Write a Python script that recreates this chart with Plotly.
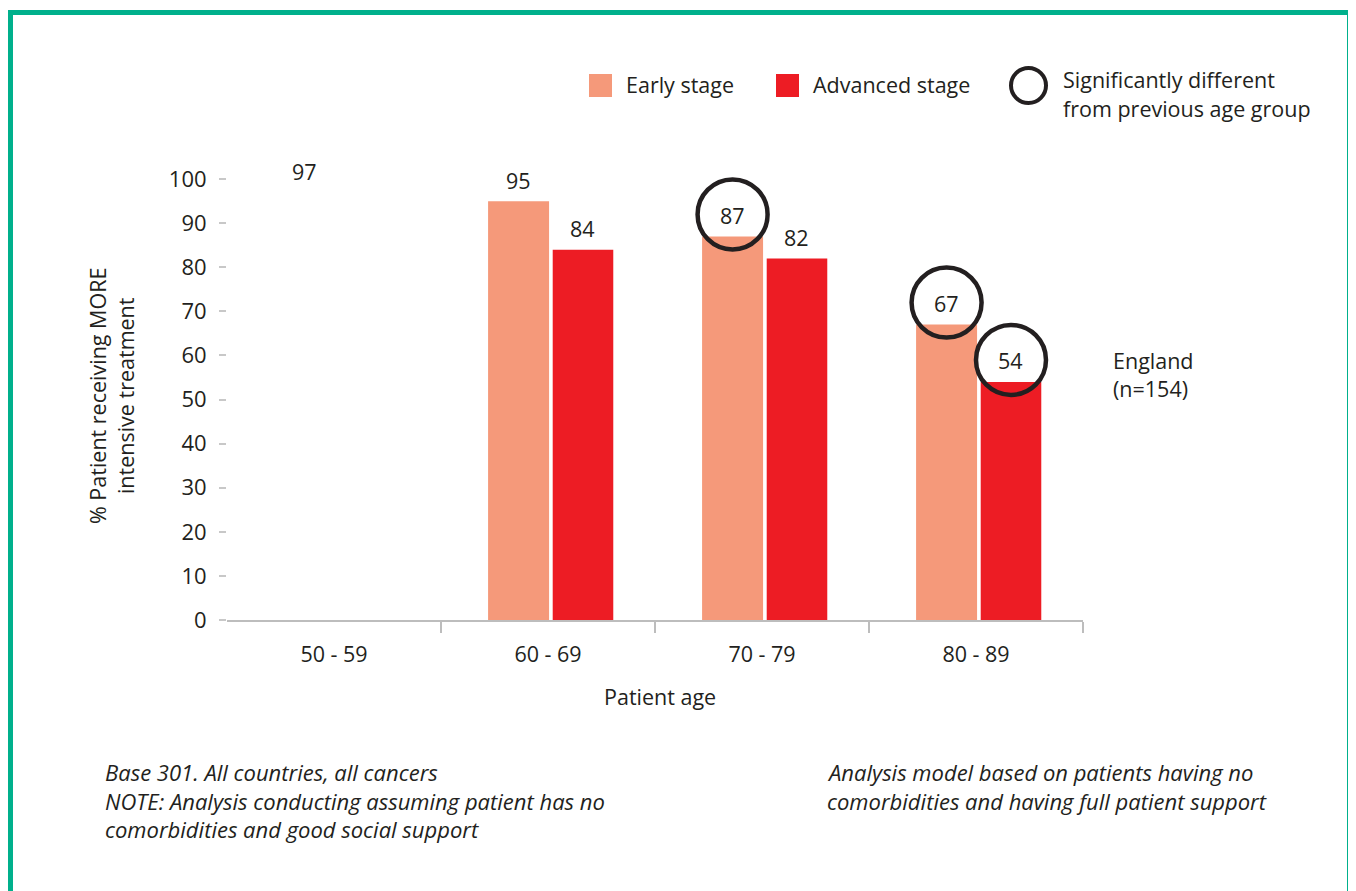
import plotly.graph_objects as go

# ---------------- data ----------------
age_groups = ["50 - 59", "60 - 69", "70 - 79", "80 - 89"]
early_values = [97, 95, 87, 67]
advanced_values = [None, 84, 82, 54]
early_bar_shown = [False, True, True, True]
early_significant = [False, False, True, True]
advanced_significant = [False, False, False, True]
y_ticks = [0, 10, 20, 30, 40, 50, 60, 70, 80, 90, 100]

# ---------------- style ----------------
OFF = 8                      # page body margin
W, H = 1348, 883             # figure size (page minus body margin offset)
# plot area in page pixels
L, R, T, B = 227, 1083, 135, 620
FONT = "Open Sans"
TXT = "#231F20"
EARLY = "#F5997A"
ADV = "#ED1C24"
GREEN = "#00B08C"
FS = 21.5

def px(x):
    return (x - L) / (R - L)

def py(y):
    return (B - y) / (B - T)

E_OFF, E_W = -0.28, 0.285
A_OFF, A_W = 0.022, 0.283
xs = list(range(len(age_groups)))

fig = go.Figure()
fig.add_trace(go.Bar(
    x=xs, y=early_values, offset=E_OFF, width=E_W, name="Early stage",
    marker=dict(color=[EARLY if s else "rgba(0,0,0,0)" for s in early_bar_shown], line_width=0),
    showlegend=False, hoverinfo="skip"))
fig.add_trace(go.Bar(
    x=xs, y=advanced_values, offset=A_OFF, width=A_W, name="Advanced stage",
    marker=dict(color=ADV, line_width=0), showlegend=False, hoverinfo="skip"))

annotations = []
shapes = []

def label(xc, v, sig):
    annotations.append(dict(x=xc, y=v, xref="x", yref="y", text=str(v), showarrow=False,
                            yshift=21, font=dict(family=FONT, size=FS, color=TXT)))
    if sig:
        shapes.append(dict(type="circle", xref="x", yref="y", xsizemode="pixel", ysizemode="pixel",
                           xanchor=xc, yanchor=v, x0=-35, x1=35, y0=22 - 35, y1=22 + 35,
                           line=dict(color=TXT, width=4.5), fillcolor="rgba(0,0,0,0)"))

for i, x in enumerate(xs):
    if early_values[i] is not None:
        label(x + E_OFF + E_W / 2, early_values[i], early_significant[i])
    if advanced_values[i] is not None:
        label(x + A_OFF + A_W / 2, advanced_values[i], advanced_significant[i])

def text(x, y, s, anchor="left", italic=False, size=FS, angle=0):
    annotations.append(dict(x=px(x), y=py(y), xref="paper", yref="paper", text=s, showarrow=False,
                            xanchor=anchor, yanchor="middle", align="center" if anchor == "center" else "left",
                            textangle=angle,
                            font=dict(family=FONT, size=size, color=TXT,
                                      style="italic" if italic else "normal")))

# legend
shapes.append(dict(type="rect", xref="paper", yref="paper", x0=px(589), x1=px(612), y0=py(97), y1=py(74),
                   fillcolor=EARLY, line_width=0))
text(624, 85, "Early stage")
shapes.append(dict(type="rect", xref="paper", yref="paper", x0=px(776), x1=px(799), y0=py(97), y1=py(74),
                   fillcolor=ADV, line_width=0))
text(811, 85, "Advanced stage")
shapes.append(dict(type="circle", xref="paper", yref="paper", x0=px(1011), x1=px(1046), y0=py(103), y1=py(68),
                   line=dict(color=TXT, width=4), fillcolor="rgba(0,0,0,0)"))
text(1061, 80, "Significantly different")
text(1061, 109, "from previous age group")

# side / axis titles
text(1111, 360, "England")
text(1111, 388, "(n=154)")
text(660, 697, "Patient age", anchor="center")
annotations.append(dict(x=px(111), y=py(396), xref="paper", yref="paper",
                        text="% Patient receiving MORE<br>intensive treatment", showarrow=False,
                        textangle=-90, xanchor="center", yanchor="middle", align="center",
                        font=dict(family=FONT, size=FS, color=TXT)))

# notes
NS = 22
text(103, 772, "Base 301. All countries, all cancers", italic=True, size=NS)
text(103, 801, "NOTE: Analysis conducting assuming patient has no", italic=True, size=NS)
text(103, 829, "comorbidities and good social support", italic=True, size=NS)
text(825, 772, "Analysis model based on patients having no", italic=True, size=NS)
text(825, 801, "comorbidities and having full patient support", italic=True, size=NS)

# green frame (page coordinates)
for (x0, y0, x1, y1) in [(10.5, 10, 10.5, 900), (8, 12.5, 1352, 12.5), (1349.5, 10, 1349.5, 900)]:
    shapes.append(dict(type="line", xref="paper", yref="paper", x0=px(x0), y0=py(y0), x1=px(x1), y1=py(y1),
                       line=dict(color=GREEN, width=5)))

fig.update_layout(
    width=W, height=H,
    margin=dict(l=L - OFF, r=W - (R - OFF), t=T - OFF, b=H - (B - OFF), pad=0),
    paper_bgcolor="white", plot_bgcolor="white",
    font=dict(family=FONT, size=FS, color=TXT),
    annotations=annotations, shapes=shapes,
    showlegend=False,
    xaxis=dict(range=[-0.5, len(age_groups) - 0.5], tickvals=xs, ticktext=age_groups,
               ticks="", showgrid=False, zeroline=False,
               showline=True, linecolor="#BDBDBD", linewidth=2,
               ticklabelstandoff=14,
               minor=dict(tickvals=[i + 0.5 for i in xs], ticks="outside", ticklen=11,
                          tickcolor="#BDBDBD", tickwidth=2, showgrid=False),
               tickfont=dict(family=FONT, size=FS, color=TXT), fixedrange=True),
    yaxis=dict(range=[0, 110], tickvals=y_ticks, ticks="outside", ticklen=7, tickwidth=2,
               tickcolor="#C8C8C8", showgrid=False, zeroline=False, showline=False,
               ticklabelstandoff=8,
               tickfont=dict(family=FONT, size=22, color=TXT), fixedrange=True),
)

fig.write_html("out.html")
